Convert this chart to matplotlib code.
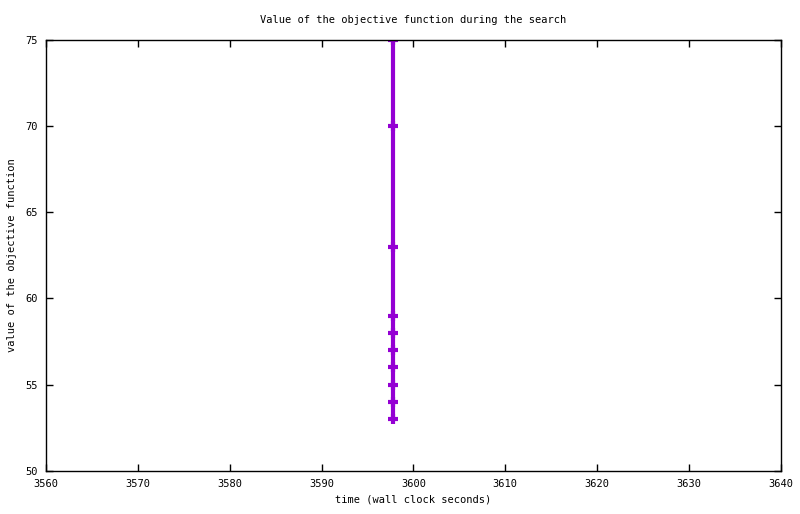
import matplotlib
matplotlib.use("Agg")
import matplotlib.pyplot as plt

times = [3597.8, 3597.8, 3597.8, 3597.8, 3597.8, 3597.8, 3597.8, 3597.8, 3597.8, 3597.8]
values = [75, 70, 63, 59, 58, 57, 56, 55, 54, 53]
xticks = [3560, 3570, 3580, 3590, 3600, 3610, 3620, 3630, 3640]
yticks = [50, 55, 60, 65, 70, 75]

plt.rcParams['font.family'] = ['DejaVu Sans Mono']
fig = plt.figure(figsize=(8, 5.14), dpi=100)
ax = fig.add_axes([0.0575, 0.0837, 0.9185, 0.8393])
ax.plot(times, values, color='#9400D3', lw=3, marker='+', ms=7.5, mew=3, solid_capstyle='butt')
ax.set_xlim(3560, 3640)
ax.set_ylim(50, 75)
ax.set_xticks(xticks)
ax.set_yticks(yticks)
ax.tick_params(direction='in', top=True, right=True, length=5, width=1, labelsize=7.5, pad=6)
for s in ax.spines.values():
    s.set_linewidth(1)
ax.set_title('Value of the objective function during the search', fontsize=7.5, pad=12)
ax.set_xlabel('time (wall clock seconds)', fontsize=7.5, labelpad=4)
ax.set_ylabel('value of the objective function', fontsize=7.5, labelpad=6)
fig.savefig('out.png', dpi=100)
